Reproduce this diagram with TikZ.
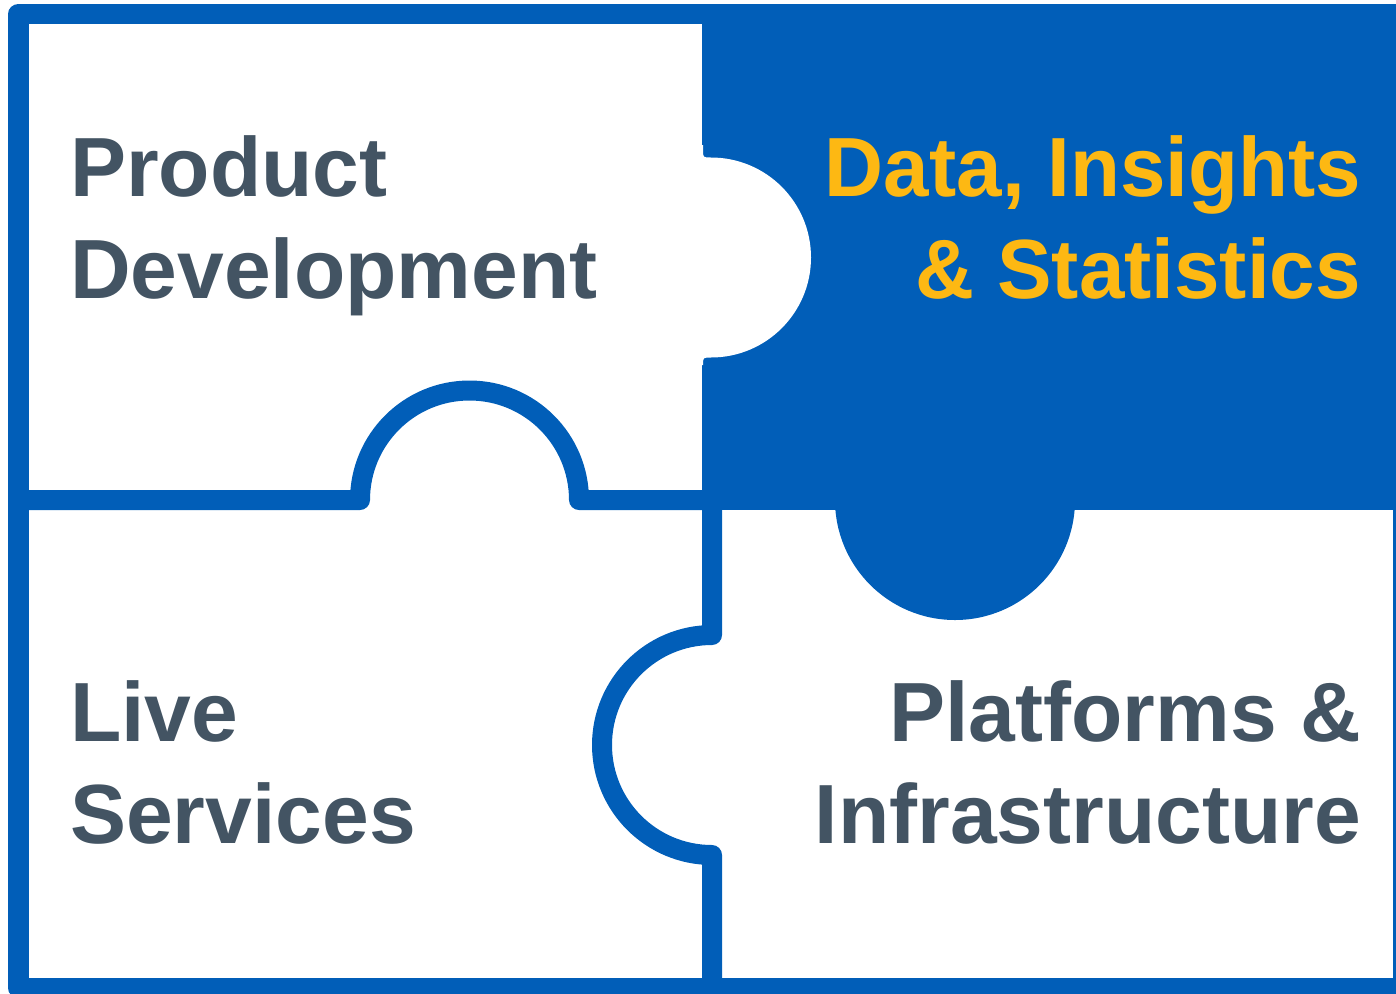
\documentclass[tikz,border=0pt]{standalone}
\usepackage{fontspec}
\setmainfont{Liberation Sans}
\newfontfamily\goldfont[FakeStretch=0.973]{Liberation Sans}
\definecolor{pblue}{RGB}{1,94,184}
\definecolor{pgold}{RGB}{253,184,19}
\definecolor{pgray}{RGB}{67,84,99}
\tikzset{
  frame/.style={draw=pblue, line width=20.5pt, line join=round},
  divider/.style={draw=pblue, line width=20pt, line join=round},
  label/.style={inner sep=0pt, font=\bfseries\fontsize{84}{101.5}\selectfont},
}
\begin{document}
\begin{tikzpicture}[x=1pt,y=1pt]
\useasboundingbox (0,0) rectangle (1396,-993);
\clip (0,0) rectangle (1396,-993);
% blue piece (top right) with its knob
\fill[pblue] (702,-4) rectangle (1410,-510);
\fill[pblue] (955,-500) circle (120pt);
% white knob of the top-left piece
\fill[white] (690,-145) -- (703,-145) -- (703,-150)
  .. controls (703,-157.5) .. (711,-157.5)
  arc[start angle=90, end angle=-90, radius=100pt]
  .. controls (703,-357.5) .. (703,-365) -- (690,-365) -- cycle;
% frame
\draw[frame] (18.5,-14) rectangle (1403,-988);
% dividers
\draw[divider] (18.5,-500) -- (360,-500)
  arc[start angle=180, end angle=0, radius=109.5pt] -- (712,-500);
\draw[divider] (712,-500) -- (712,-635)
  arc[start angle=90, end angle=270, radius=110pt] -- (712,-988);
% labels
\node[label, text=pgray, align=left, anchor=base west] (pd) at (70,-298) {Product\\Development};
\node[label, text=pgold, align=right, anchor=base east, font=\goldfont\bfseries\fontsize{84}{101.5}\selectfont] (dis) at (1361,-298) {Data, Insights\\\& Statistics};
\node[label, text=pgray, align=left, anchor=base west] (ls) at (70,-843) {Live\\Services};
\node[label, text=pgray, align=right, anchor=base east] (pi) at (1361,-843) {Platforms \&\\Infrastructure};
\end{tikzpicture}
\end{document}
